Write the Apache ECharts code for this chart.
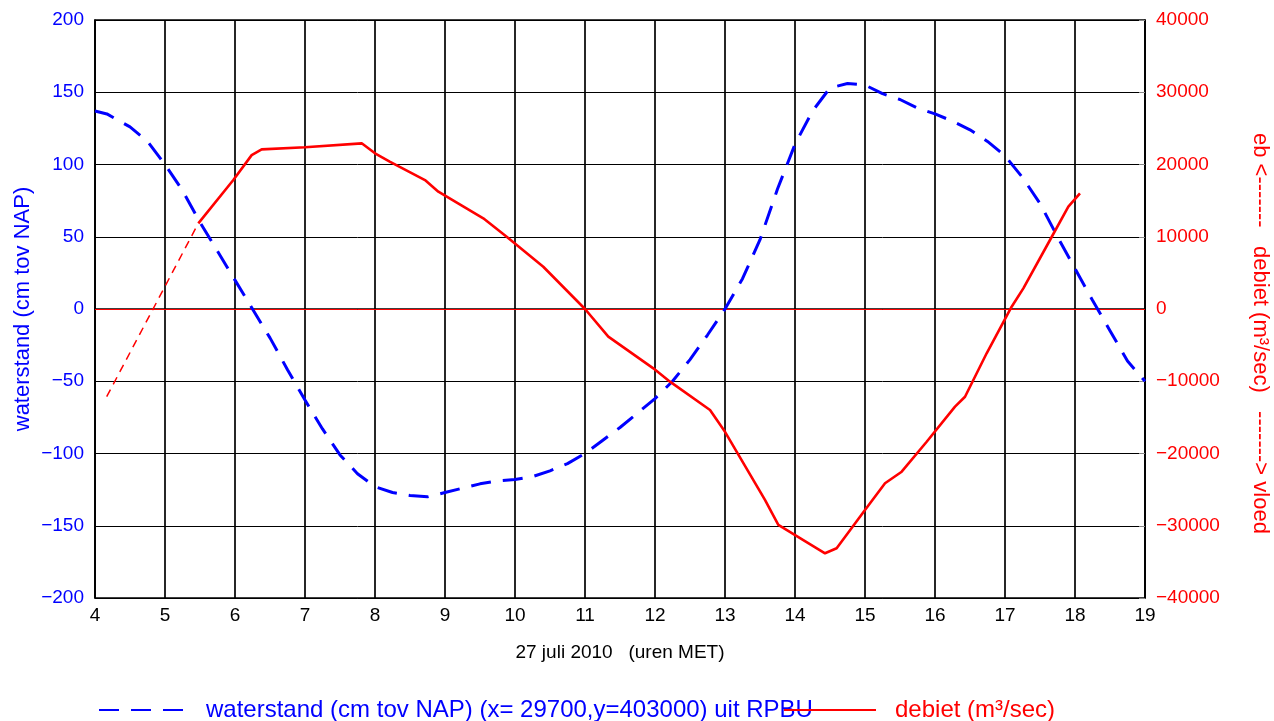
<!DOCTYPE html>
<html>
<head>
<meta charset="utf-8">
<script src="https://cdn.jsdelivr.net/npm/echarts@6/dist/echarts.min.js"></script>
<style>html,body{margin:0;padding:0;background:#fff}#c{width:1274px;height:721px}</style>
</head>
<body>
<div id="c"></div>
<script>
// x values in hours (27 juli 2010, uren MET)
var waterHours = [4.0,4.17,4.5,4.75,5.0,5.25,5.5,5.75,6.0,6.25,6.5,6.75,7.0,7.25,7.5,7.75,8.0,8.25,8.5,8.75,9.0,9.25,9.5,9.75,10.0,10.25,10.5,10.75,11.0,11.25,11.5,11.75,12.0,12.25,12.5,12.75,13.0,13.25,13.5,13.75,14.0,14.25,14.5,14.75,15.0,15.25,15.5,15.75,16.0,16.25,16.5,16.75,17.0,17.25,17.5,17.75,18.0,18.25,18.5,18.75,19.0];
var waterLevel = [137,135,126,116,100,82,60,40,20,0,-20,-42,-63,-83,-101,-114,-123,-127,-129,-130,-127,-124,-121,-119,-118,-116,-112,-107,-100,-91,-82,-72,-62,-50,-35,-18,0,21,48,83,114,137,153,156,155,149,145,139,135,130,124,116,106,91,73,50,28,6,-15,-36,-50];

var flowHours = [5.476,5.976,6.238,6.381,7.0,7.81,8.0,8.21,8.714,8.905,9.547,9.881,10.404,11.0,11.333,11.976,12.214,12.786,13.0,13.571,13.762,14.429,14.595,15.0,15.286,15.524,15.881,16.286,16.429,16.738,17.095,17.262,17.643,17.905,18.071];
var flowValues = [11860,17850,21300,22100,22380,22930,21550,20390,17850,16240,12550,10010,5850,0,-3830,-8210,-10060,-13980,-17000,-26430,-29890,-33810,-33120,-27820,-24120,-22520,-18370,-13520,-12140,-6130,320,2860,9550,14160,16010];

// extrapolated (dashed) part of debiet
var flowExtraHours = [4.167,5.476];
var flowExtraValues = [-12140,11860];

var xTicks = [4,19,1];
var leftTicks = [-200,200,50];
var rightTicks = [-40000,40000,10000];

var waterName = 'waterstand (cm tov NAP) (x= 29700,y=403000) uit RPBU';
var flowName = 'debiet (m\u00b3/sec)';
var leftAxisName = 'waterstand (cm tov NAP)';
var dashes = '-------';
var rightAxisName = '        eb <' + dashes + '   debiet (m\u00b3/sec)   ' + dashes + '> vloed';
var xAxisName = '27 juli 2010   (uren MET)';

function pairs(xs, ys){ return xs.map(function(x,i){ return [x, ys[i]]; }); }
function minus(v){ return String(v).replace('-', '\u2212'); }

var chart = echarts.init(document.getElementById('c'));
var font = 'Liberation Sans, Arial, sans-serif';

chart.setOption({
  animation:false,
  backgroundColor:'#fff',
  textStyle:{fontFamily:font},
  grid:{left:95,right:129,top:20,bottom:123,outerBoundsMode:'none',containLabel:false,show:true,borderColor:'#000',borderWidth:1.5,backgroundColor:'transparent'},
  xAxis:{
    type:'value', min:xTicks[0], max:xTicks[1], interval:xTicks[2],
    name:xAxisName, nameLocation:'middle', nameGap:45,
    nameTextStyle:{color:'#000',fontSize:19,fontFamily:font},
    axisLine:{show:true,lineStyle:{color:'#000',width:1.5}},
    axisTick:{show:false},
    axisLabel:{color:'#000',fontSize:19,margin:8,fontFamily:font},
    splitLine:{show:true,lineStyle:{color:'#000',width:1.7}}
  },
  yAxis:[{
    type:'value', min:leftTicks[0], max:leftTicks[1], interval:leftTicks[2], position:'left',
    name:leftAxisName, nameLocation:'middle', nameGap:61, nameRotate:90, nameMoveOverlap:false,
    nameTextStyle:{color:'#0000ff',fontSize:22,fontFamily:font},
    axisLine:{show:true,lineStyle:{color:'#000',width:1.5}},
    axisTick:{show:false},
    axisLabel:{color:'#0000ff',fontSize:19,margin:11,fontFamily:font,formatter:minus},
    splitLine:{show:true,lineStyle:{color:'#000',width:1}}
  },{
    type:'value', min:rightTicks[0], max:rightTicks[1], interval:rightTicks[2], position:'right',
    name:rightAxisName, nameLocation:'middle', nameGap:104, nameRotate:-90, nameMoveOverlap:false,
    nameTextStyle:{color:'#ff0000',fontSize:22,fontFamily:font},
    axisLine:{show:true,lineStyle:{color:'#000',width:1.5}},
    axisTick:{show:true,inside:true,length:6,lineStyle:{color:'#888'}},
    axisLabel:{color:'#ff0000',fontSize:19,margin:11,fontFamily:font,formatter:minus},
    splitLine:{show:false}
  }],
  legend:[{
    data:[waterName],
    left:93, top:693, itemWidth:88, itemHeight:16,
    itemStyle:{opacity:0},
    textStyle:{color:'#0000ff',fontSize:24,fontFamily:font,padding:[0,0,0,14]}, selectedMode:false
  },{
    data:[flowName],
    left:778, top:693, itemWidth:92, itemHeight:16,
    itemStyle:{opacity:0},
    textStyle:{color:'#ff0000',fontSize:24,fontFamily:font,padding:[0,0,0,14]}, selectedMode:false
  }],
  series:[{
    name:waterName,
    type:'line', yAxisIndex:0, showSymbol:false, symbol:'none', smooth:false,
    data:pairs(waterHours, waterLevel),
    lineStyle:{color:'#0000ff',width:3,type:[20,12]}, itemStyle:{color:'#0000ff'}, z:3,
    markLine:{silent:true,symbol:'none',label:{show:false},lineStyle:{color:'#ff0000',width:1,type:'solid'},data:[{yAxis:0}],z:2}
  },{
    name:flowName,
    type:'line', yAxisIndex:1, showSymbol:false, symbol:'none',
    data:pairs(flowHours, flowValues),
    lineStyle:{color:'#ff0000',width:2.6}, itemStyle:{color:'#ff0000'}, z:4
  },{
    name:'debiet extrapolatie',
    type:'line', yAxisIndex:1, showSymbol:false, symbol:'none',
    data:pairs(flowExtraHours, flowExtraValues),
    lineStyle:{color:'#ff0000',width:1.5,type:[8,6]}, itemStyle:{color:'#ff0000'}, z:4
  }]
});
</script>
</body>
</html>
